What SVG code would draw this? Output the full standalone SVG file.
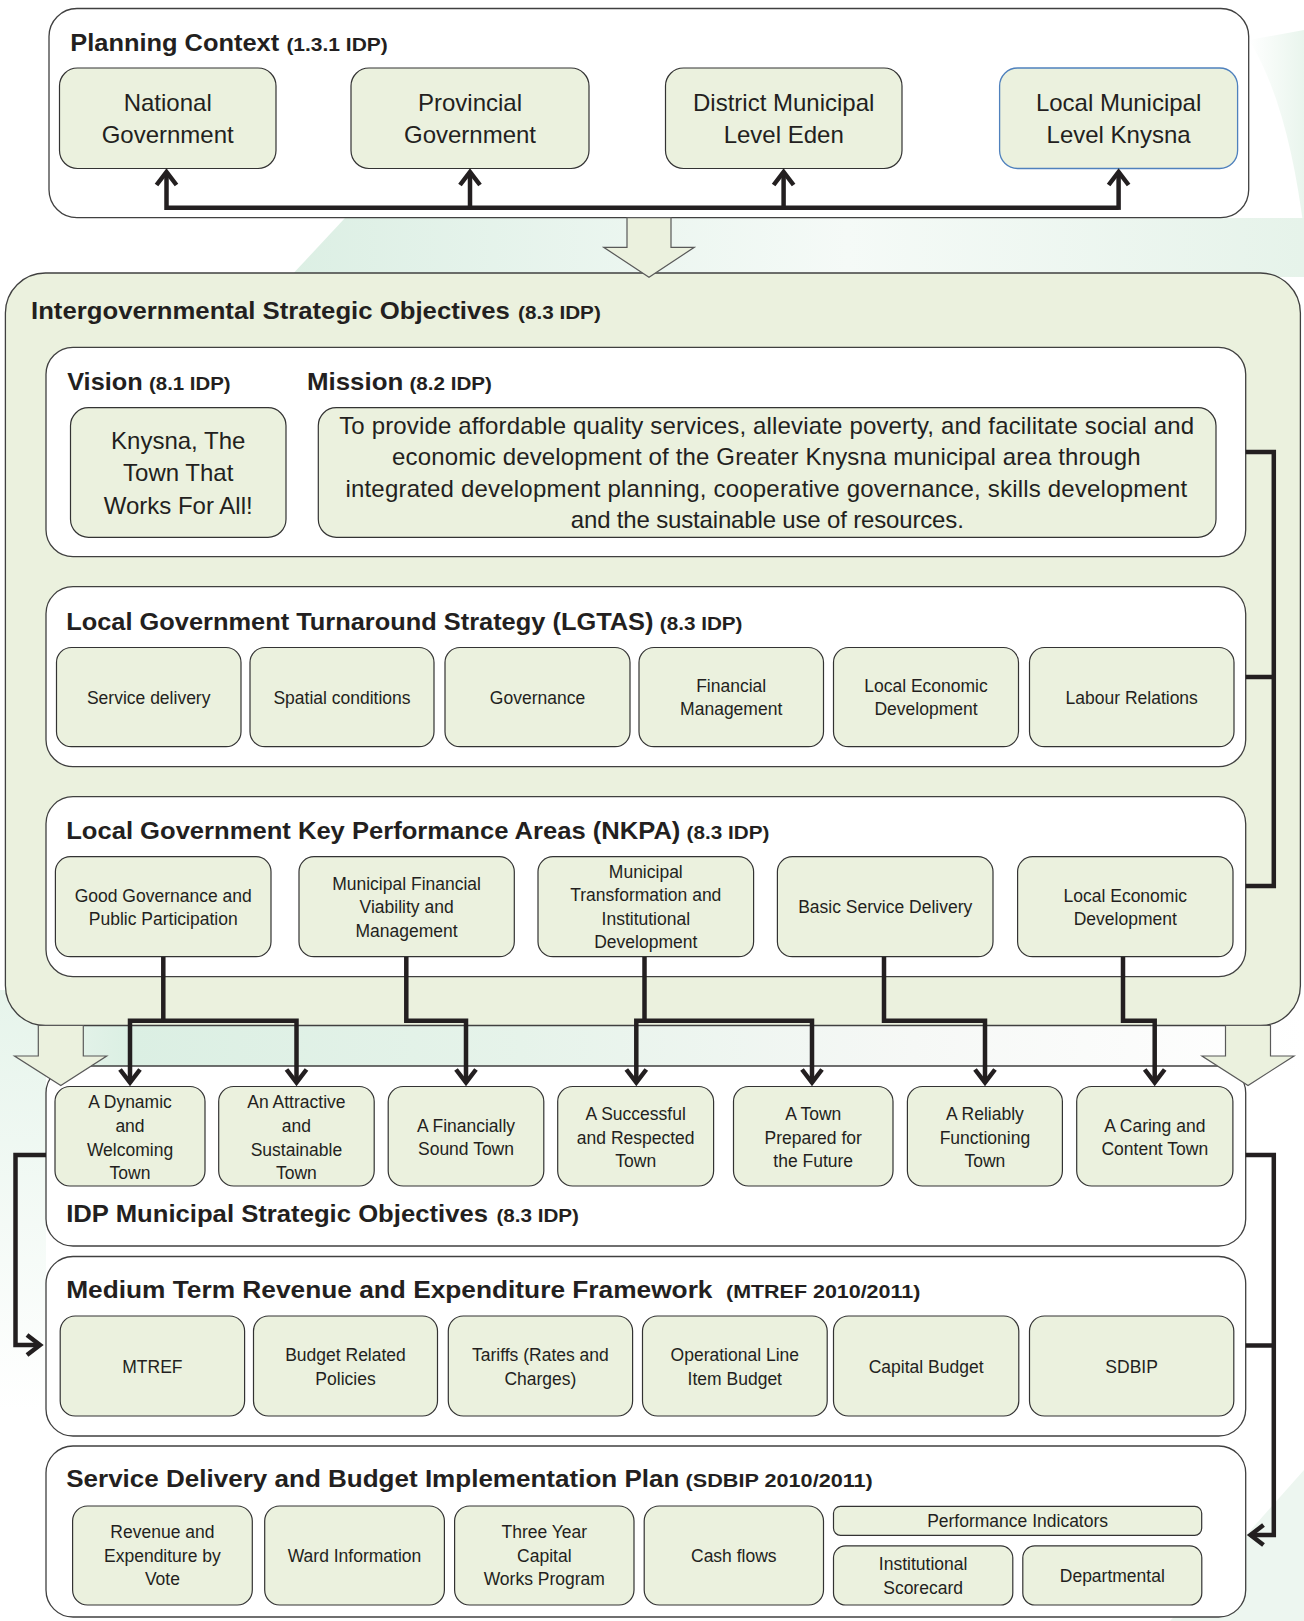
<svg xmlns="http://www.w3.org/2000/svg" width="1304" height="1621" viewBox="0 0 1304 1621">
<defs>
<style>
.sec{fill:#ffffff;stroke:#404040;stroke-width:1.3}
.big{fill:#EBF1DE;stroke:#404040;stroke-width:1.3}
.nd{fill:#EBF1DE;stroke:#333333;stroke-width:1.2}
.ndb{fill:#EBF1DE;stroke:#4F81BD;stroke-width:1.3}
text{font-family:"Liberation Sans",Arial,sans-serif;fill:#231F20}
.h{font-weight:bold;font-size:24px}
.hs{font-weight:bold;font-size:18.5px}
.l{font-size:24px;text-anchor:middle}
.s{font-size:17.5px;text-anchor:middle}
.c{fill:none;stroke:#231F20;stroke-width:4.5;stroke-linejoin:miter;stroke-linecap:butt}
.blk{fill:#EBF1DE;stroke:#595959;stroke-width:1.2;stroke-linejoin:miter}
</style>
<marker id="ah" markerUnits="userSpaceOnUse" viewBox="-16 -14 20 28" markerWidth="20" markerHeight="28" refX="0" refY="0" orient="auto" overflow="visible">
<path d="M-13,-10 L0,0 L-13,10" fill="none" stroke="#231F20" stroke-width="4.5"/>
</marker>
<linearGradient id="g1" x1="0" y1="0" x2="1" y2="0">
<stop offset="0" stop-color="#ffffff"/><stop offset="1" stop-color="#e9f5ed"/>
</linearGradient>
<linearGradient id="g2" x1="0" y1="0" x2="1" y2="0">
<stop offset="0" stop-color="#dcefe4"/><stop offset="0.55" stop-color="#f5faf7"/><stop offset="1" stop-color="#e6f3ea"/>
</linearGradient>
<linearGradient id="g3" x1="0" y1="0" x2="1" y2="0">
<stop offset="0" stop-color="#eef7f1"/><stop offset="0.1" stop-color="#dbefe3"/><stop offset="0.4" stop-color="#e6f3ea"/><stop offset="0.7" stop-color="#f6f8f6"/><stop offset="1" stop-color="#ffffff"/>
</linearGradient>
<linearGradient id="g4" x1="0" y1="0" x2="0" y2="1">
<stop offset="0" stop-color="#e6f4eb"/><stop offset="1" stop-color="#ffffff"/>
</linearGradient>
</defs>

<g id="background">
<rect x="0" y="0" width="1304" height="1621" fill="#ffffff"/>
<path d="M1249,40 C1280,90 1295,160 1304,230 L1304,30 Z" fill="url(#g1)"/>
<path d="M290,277 L345,218 L1304,218 L1304,277 Z" fill="url(#g2)"/>
<rect x="0" y="1020" width="1304" height="50" fill="url(#g3)"/>
<rect x="0" y="990" width="46" height="420" fill="url(#g4)"/>
<path d="M1304,1470 L1304,1621 L1170,1621 Z" fill="#edf6f0"/>
</g>

<g id="planning-context">
<rect class="sec" x="49" y="8.5" width="1199.7" height="209.2" rx="28"/>
<text class="h" x="70.3" y="50.5" textLength="208.9" lengthAdjust="spacingAndGlyphs">Planning Context</text>
<text class="hs" x="286.4" y="50.5" textLength="101.4" lengthAdjust="spacingAndGlyphs">(1.3.1 IDP)</text>
</g>
<g id="n-national"><rect class="nd" x="59.5" y="68" width="216.5" height="100.5" rx="18"/><text class="l" x="167.7" y="111">National</text><text class="l" x="167.7" y="142.5">Government</text></g>
<g id="n-provincial"><rect class="nd" x="351" y="68" width="238" height="100.5" rx="18"/><text class="l" x="470" y="111">Provincial</text><text class="l" x="470" y="142.5">Government</text></g>
<g id="n-district"><rect class="nd" x="665.5" y="68" width="236.5" height="100.5" rx="18"/><text class="l" x="783.7" y="111">District Municipal</text><text class="l" x="783.7" y="142.5">Level Eden</text></g>
<g id="n-local"><rect class="ndb" x="999.6" y="68" width="238" height="100.5" rx="18"/><text class="l" x="1118.6" y="111">Local Municipal</text><text class="l" x="1118.6" y="142.5">Level Knysna</text></g>

<g id="intergovernmental">
<rect class="big" x="5.4" y="273" width="1295" height="752.5" rx="40"/>
<text class="h" x="31" y="319.3" textLength="478.8" lengthAdjust="spacingAndGlyphs">Intergovernmental Strategic Objectives</text>
<text class="hs" x="518" y="319.3" textLength="82.8" lengthAdjust="spacingAndGlyphs">(8.3 IDP)</text>
</g>

<g id="vision-mission">
<rect class="sec" x="46" y="347.3" width="1199.7" height="209.4" rx="27"/>
<text class="h" x="67.2" y="390" textLength="75.5" lengthAdjust="spacingAndGlyphs">Vision</text>
<text class="hs" x="149" y="390" textLength="81.6" lengthAdjust="spacingAndGlyphs">(8.1 IDP)</text>
<text class="h" x="307" y="390" textLength="96.3" lengthAdjust="spacingAndGlyphs">Mission</text>
<text class="hs" x="409.5" y="390" textLength="82.5" lengthAdjust="spacingAndGlyphs">(8.2 IDP)</text>
</g>
<g id="n-vision"><rect class="nd" x="70.5" y="407.7" width="215.5" height="129.6" rx="18"/><text class="l" x="178.2" y="449">Knysna, The</text><text class="l" x="178.2" y="481.3">Town That</text><text class="l" x="178.2" y="513.5">Works For All!</text></g>
<g id="n-mission"><rect class="nd" x="318.3" y="407.7" width="897.7" height="129.6" rx="18"/>
<text class="l" x="766.7" y="433.5" textLength="855" lengthAdjust="spacing">To provide affordable quality services, alleviate poverty, and facilitate social and</text>
<text class="l" x="766.3" y="465" textLength="748.6" lengthAdjust="spacing">economic development of the Greater Knysna municipal area through</text>
<text class="l" x="766.3" y="496.7" textLength="841.8" lengthAdjust="spacing">integrated development planning, cooperative governance, skills development</text>
<text class="l" x="767.3" y="528.3" textLength="393" lengthAdjust="spacing">and the sustainable use of resources.</text>
</g>

<g id="lgtas">
<rect class="sec" x="46" y="586.7" width="1199.7" height="180" rx="27"/>
<text class="h" x="66.2" y="630" textLength="587.3" lengthAdjust="spacingAndGlyphs">Local Government Turnaround Strategy (LGTAS)</text>
<text class="hs" x="659.8" y="630" textLength="82.7" lengthAdjust="spacingAndGlyphs">(8.3 IDP)</text>
</g>
<g id="n-service-delivery"><rect class="nd" x="56.5" y="647.5" width="184.5" height="99.2" rx="15"/><text class="s" x="148.7" y="703.5">Service delivery</text></g>
<g id="n-spatial"><rect class="nd" x="250" y="647.5" width="184" height="99.2" rx="15"/><text class="s" x="342" y="703.5">Spatial conditions</text></g>
<g id="n-governance"><rect class="nd" x="445" y="647.5" width="185" height="99.2" rx="15"/><text class="s" x="537.5" y="703.5">Governance</text></g>
<g id="n-financial-mgmt"><rect class="nd" x="639" y="647.5" width="184.5" height="99.2" rx="15"/><text class="s" x="731.2" y="691.7">Financial</text><text class="s" x="731.2" y="715">Management</text></g>
<g id="n-led-lgtas"><rect class="nd" x="833.5" y="647.5" width="185" height="99.2" rx="15"/><text class="s" x="926" y="691.7">Local Economic</text><text class="s" x="926" y="715">Development</text></g>
<g id="n-labour"><rect class="nd" x="1029.5" y="647.5" width="204.5" height="99.2" rx="15"/><text class="s" x="1131.7" y="703.5">Labour Relations</text></g>

<g id="nkpa">
<rect class="sec" x="46" y="796.7" width="1199.7" height="180" rx="27"/>
<text class="h" x="66.2" y="839" textLength="614.2" lengthAdjust="spacingAndGlyphs">Local Government Key Performance Areas (NKPA)</text>
<text class="hs" x="686.6" y="839" textLength="82.8" lengthAdjust="spacingAndGlyphs">(8.3 IDP)</text>
</g>
<g id="n-good-governance"><rect class="nd" x="55.4" y="856.7" width="215.6" height="100" rx="15"/><text class="s" x="163.2" y="901.8">Good Governance and</text><text class="s" x="163.2" y="925">Public Participation</text></g>
<g id="n-mun-financial"><rect class="nd" x="299" y="856.7" width="215.3" height="100" rx="15"/><text class="s" x="406.6" y="889.5">Municipal Financial</text><text class="s" x="406.6" y="913">Viability and</text><text class="s" x="406.6" y="936.5">Management</text></g>
<g id="n-mun-transformation"><rect class="nd" x="538" y="856.7" width="215.6" height="100" rx="15"/><text class="s" x="645.8" y="878">Municipal</text><text class="s" x="645.8" y="901.4">Transformation and</text><text class="s" x="645.8" y="924.8">Institutional</text><text class="s" x="645.8" y="948.2">Development</text></g>
<g id="n-basic-service"><rect class="nd" x="777.4" y="856.7" width="215.6" height="100" rx="15"/><text class="s" x="885.2" y="913">Basic Service Delivery</text></g>
<g id="n-led-nkpa"><rect class="nd" x="1017.6" y="856.7" width="215.4" height="100" rx="15"/><text class="s" x="1125.3" y="901.8">Local Economic</text><text class="s" x="1125.3" y="925">Development</text></g>

<g id="idp-objectives">
<rect class="sec" x="46" y="1066" width="1199.7" height="180" rx="27"/>
<text class="h" x="66.2" y="1222" textLength="421.8" lengthAdjust="spacingAndGlyphs">IDP Municipal Strategic Objectives</text>
<text class="hs" x="496.4" y="1222" textLength="82.6" lengthAdjust="spacingAndGlyphs">(8.3 IDP)</text>
</g>
<g id="n-dynamic"><rect class="nd" x="55" y="1086.5" width="150" height="99.5" rx="15"/><text class="s" x="130" y="1108.3">A Dynamic</text><text class="s" x="130" y="1131.9">and</text><text class="s" x="130" y="1155.5">Welcoming</text><text class="s" x="130" y="1179.1">Town</text></g>
<g id="n-attractive"><rect class="nd" x="218.7" y="1086.5" width="155.5" height="99.5" rx="15"/><text class="s" x="296.4" y="1108.3">An Attractive</text><text class="s" x="296.4" y="1131.9">and</text><text class="s" x="296.4" y="1155.5">Sustainable</text><text class="s" x="296.4" y="1179.1">Town</text></g>
<g id="n-financially-sound"><rect class="nd" x="388.2" y="1086.5" width="155.6" height="99.5" rx="15"/><text class="s" x="466" y="1131.7">A Financially</text><text class="s" x="466" y="1155">Sound Town</text></g>
<g id="n-successful"><rect class="nd" x="557.7" y="1086.5" width="155.9" height="99.5" rx="15"/><text class="s" x="635.7" y="1120.2">A Successful</text><text class="s" x="635.7" y="1143.8">and Respected</text><text class="s" x="635.7" y="1167.4">Town</text></g>
<g id="n-prepared"><rect class="nd" x="733.5" y="1086.5" width="159.5" height="99.5" rx="15"/><text class="s" x="813.2" y="1120.2">A Town</text><text class="s" x="813.2" y="1143.8">Prepared for</text><text class="s" x="813.2" y="1167.4">the Future</text></g>
<g id="n-reliably"><rect class="nd" x="907.4" y="1086.5" width="155" height="99.5" rx="15"/><text class="s" x="984.9" y="1120.2">A Reliably</text><text class="s" x="984.9" y="1143.8">Functioning</text><text class="s" x="984.9" y="1167.4">Town</text></g>
<g id="n-caring"><rect class="nd" x="1076.7" y="1086.5" width="156.2" height="99.5" rx="15"/><text class="s" x="1154.8" y="1131.7">A Caring and</text><text class="s" x="1154.8" y="1155">Content Town</text></g>

<g id="mtref">
<rect class="sec" x="46" y="1256.5" width="1199.7" height="179.5" rx="27"/>
<text class="h" x="66.2" y="1298.3" textLength="646.3" lengthAdjust="spacingAndGlyphs">Medium Term Revenue and Expenditure Framework</text>
<text class="hs" x="726" y="1298.3" textLength="194.3" lengthAdjust="spacingAndGlyphs">(MTREF 2010/2011)</text>
</g>
<g id="n-mtref"><rect class="nd" x="60.2" y="1316" width="184.4" height="100" rx="15"/><text class="s" x="152.4" y="1372.5">MTREF</text></g>
<g id="n-budget-policies"><rect class="nd" x="253.5" y="1316" width="184" height="100" rx="15"/><text class="s" x="345.5" y="1361">Budget Related</text><text class="s" x="345.5" y="1384.5">Policies</text></g>
<g id="n-tariffs"><rect class="nd" x="448.3" y="1316" width="184.3" height="100" rx="15"/><text class="s" x="540.4" y="1361">Tariffs (Rates and</text><text class="s" x="540.4" y="1384.5">Charges)</text></g>
<g id="n-operational"><rect class="nd" x="642.5" y="1316" width="184.7" height="100" rx="15"/><text class="s" x="734.8" y="1361">Operational Line</text><text class="s" x="734.8" y="1384.5">Item Budget</text></g>
<g id="n-capital"><rect class="nd" x="833.5" y="1316" width="185.3" height="100" rx="15"/><text class="s" x="926.1" y="1372.5">Capital Budget</text></g>
<g id="n-sdbip-item"><rect class="nd" x="1029.5" y="1316" width="204.3" height="100" rx="15"/><text class="s" x="1131.6" y="1372.5">SDBIP</text></g>

<g id="sdbip">
<rect class="sec" x="46" y="1446" width="1199.7" height="171" rx="27"/>
<text class="h" x="66.2" y="1486.7" textLength="613.2" lengthAdjust="spacingAndGlyphs">Service Delivery and Budget Implementation Plan</text>
<text class="hs" x="685.6" y="1486.7" textLength="187.2" lengthAdjust="spacingAndGlyphs">(SDBIP 2010/2011)</text>
</g>
<g id="n-revenue-vote"><rect class="nd" x="72.6" y="1506" width="179.7" height="99" rx="15"/><text class="s" x="162.4" y="1538.4">Revenue and</text><text class="s" x="162.4" y="1561.8">Expenditure by</text><text class="s" x="162.4" y="1585.2">Vote</text></g>
<g id="n-ward"><rect class="nd" x="264.7" y="1506" width="179.7" height="99" rx="15"/><text class="s" x="354.5" y="1561.8">Ward Information</text></g>
<g id="n-three-year"><rect class="nd" x="454.6" y="1506" width="179.4" height="99" rx="15"/><text class="s" x="544.3" y="1538.4">Three Year</text><text class="s" x="544.3" y="1561.8">Capital</text><text class="s" x="544.3" y="1585.2">Works Program</text></g>
<g id="n-cash-flows"><rect class="nd" x="644.2" y="1506" width="179.3" height="99" rx="15"/><text class="s" x="733.8" y="1561.8">Cash flows</text></g>
<g id="n-performance"><rect class="nd" x="833.5" y="1506.3" width="368.2" height="29" rx="7"/><text class="s" x="1017.6" y="1527.3">Performance Indicators</text></g>
<g id="n-institutional"><rect class="nd" x="833.5" y="1545.8" width="179.3" height="59.2" rx="12"/><text class="s" x="923.1" y="1570">Institutional</text><text class="s" x="923.1" y="1593.5">Scorecard</text></g>
<g id="n-departmental"><rect class="nd" x="1022.8" y="1545.8" width="179" height="59.2" rx="12"/><text class="s" x="1112.3" y="1582.3">Departmental</text></g>

<g id="block-arrows">
<polygon class="blk" points="627,217.7 671,217.7 671,247.3 694.3,247.3 649,277.3 603.7,247.3 627,247.3"/>
<polygon class="blk" points="38.3,1025.5 83.3,1025.5 83.3,1056 106.7,1056 60.8,1085.5 14.5,1056 38.3,1056"/>
<polygon class="blk" points="1225.5,1025.5 1270.5,1025.5 1270.5,1056 1294,1056 1248,1085.5 1202,1056 1225.5,1056"/>
</g>

<g id="connectors">
<path class="c" d="M1118.6,207.7 H166.5 V172" marker-end="url(#ah)"/>
<path class="c" d="M470,207.7 V172" marker-end="url(#ah)"/>
<path class="c" d="M783.6,207.7 V172" marker-end="url(#ah)"/>
<path class="c" d="M1118.6,209.9 V172" marker-end="url(#ah)"/>
<path class="c" d="M1245.7,452 H1273.8 V886 H1245.7"/>
<path class="c" d="M1245.7,677 H1273.8"/>
<path class="c" d="M163.3,957 V1020.7 H130 V1082.5" marker-end="url(#ah)"/>
<path class="c" d="M163.3,1020.7 H296.5 V1082.5" marker-end="url(#ah)"/>
<path class="c" d="M406.3,957 V1020.7 H466 V1082.5" marker-end="url(#ah)"/>
<path class="c" d="M644.5,957 V1020.7 H636.3 V1082.5" marker-end="url(#ah)"/>
<path class="c" d="M644.5,1020.7 H812 V1082.5" marker-end="url(#ah)"/>
<path class="c" d="M884,957 V1020.7 H985 V1082.5" marker-end="url(#ah)"/>
<path class="c" d="M1123,957 V1020.7 H1154.7 V1082.5" marker-end="url(#ah)"/>
<path class="c" d="M46,1155 H15.5 V1345 H40" marker-end="url(#ah)"/>
<path class="c" d="M1245.7,1155 H1273.8 V1535 H1250.5" marker-end="url(#ah)"/>
<path class="c" d="M1245.7,1345.5 H1273.8"/>
</g>
</svg>
